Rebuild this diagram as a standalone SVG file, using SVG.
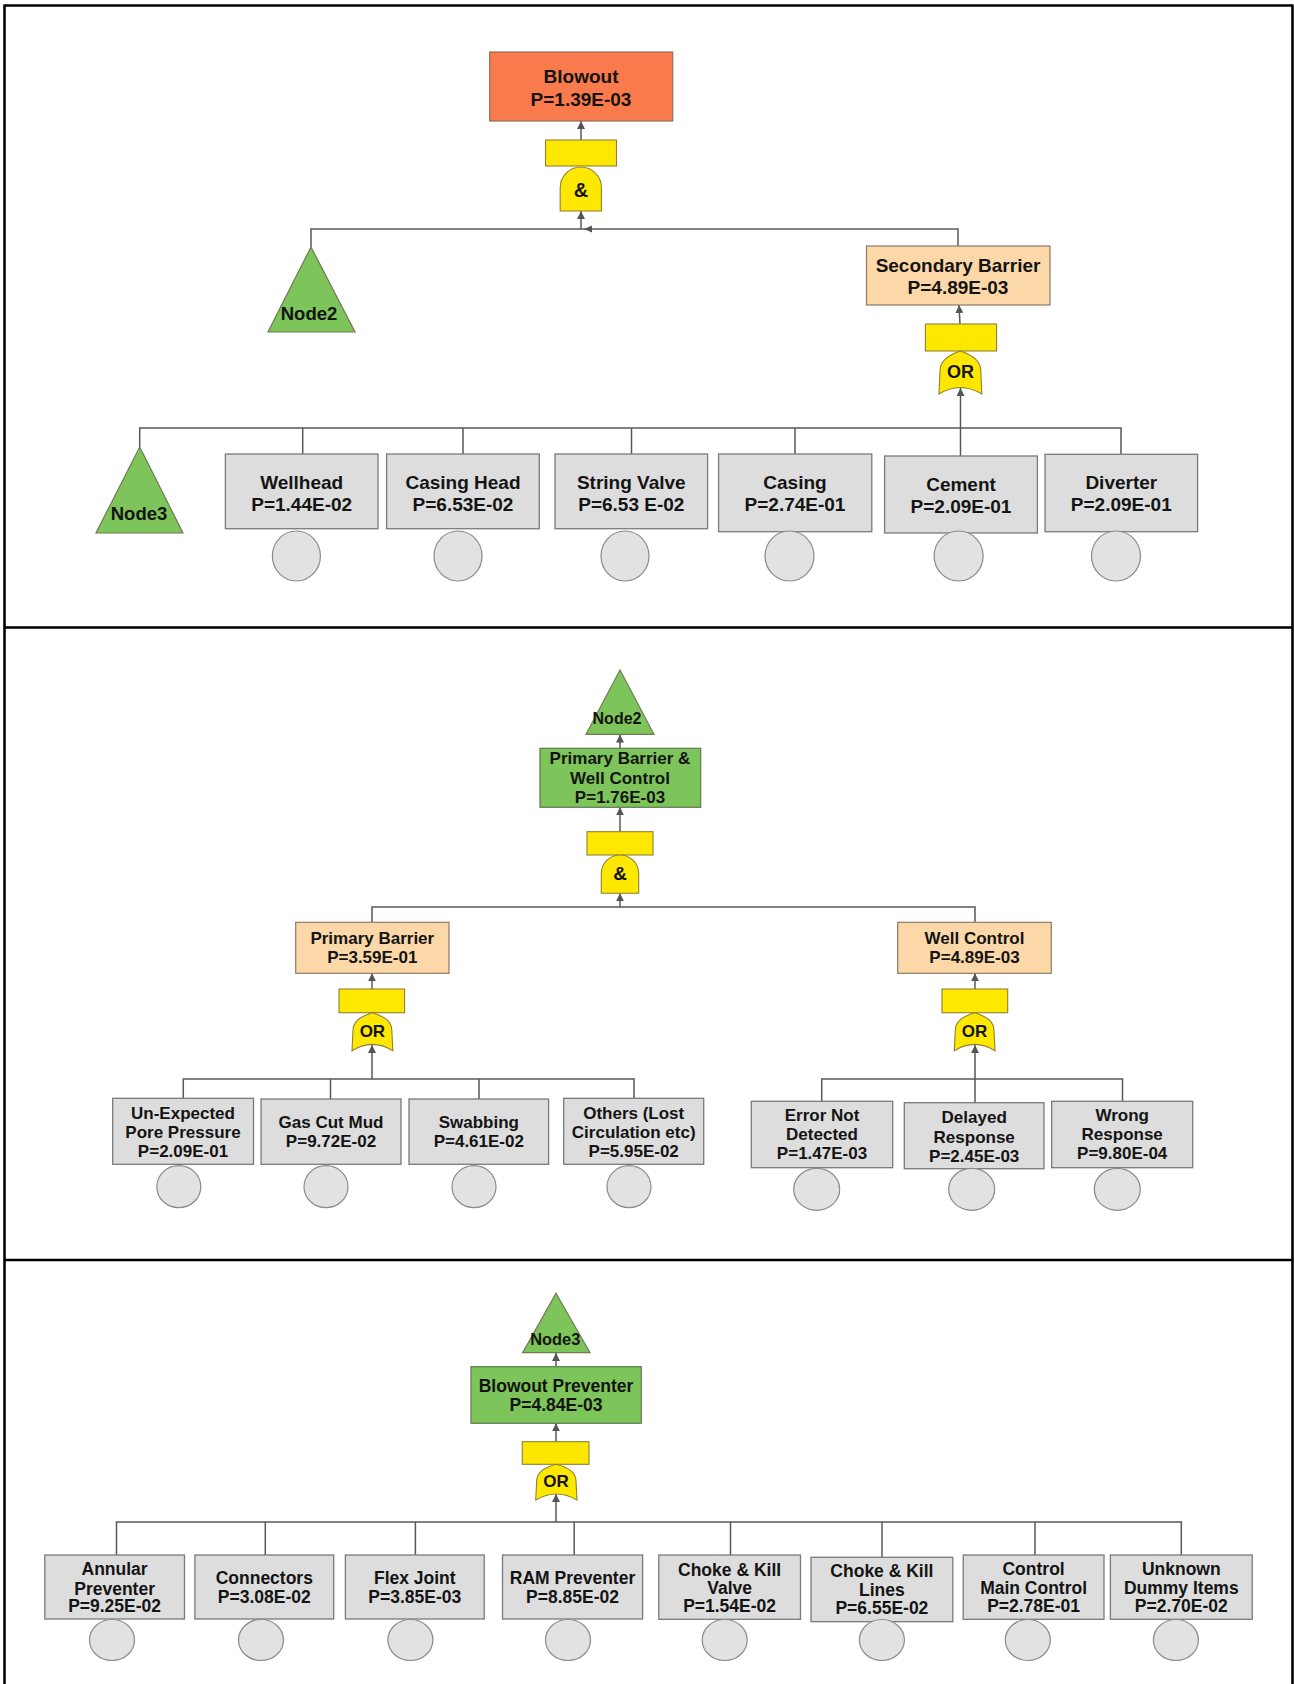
<svg xmlns="http://www.w3.org/2000/svg" width="1294" height="1684" viewBox="0 0 1294 1684">
<defs>
<style>
text{font-family:"Liberation Sans",Arial,sans-serif;font-weight:bold;fill:#141414;text-anchor:middle}
.p1{font-size:19px}
.p2{font-size:17px}
.p3{font-size:17.5px}
.ev{fill:#DDDDDD;stroke:#7A7A7A;stroke-width:1.3}
.circ{fill:#E2E2E2;stroke:#8A8A8A;stroke-width:1.2}
.top{fill:#F97A4C;stroke:#9A6A55;stroke-width:1.2}
.mid{fill:#FCD8A9;stroke:#8E7A66;stroke-width:1.2}
.grn{fill:#7DC45A;stroke:#5E7A50;stroke-width:1.2}
.tri{fill:#7DC45A;stroke:#6F7A55;stroke-width:1.2}
.gate{fill:#FFE800;stroke:#8F8035;stroke-width:1.1}
.ln{fill:none;stroke:#585858;stroke-width:1.5}
.ar{fill:none;stroke:#585858;stroke-width:1.5;marker-end:url(#ah)}
.frame{fill:none;stroke:#000;stroke-width:2.6}
</style>
<marker id="ah" viewBox="0 0 8 8" refX="8" refY="4" markerWidth="8" markerHeight="8" markerUnits="userSpaceOnUse" orient="auto">
<path d="M0,0 L8,4 L0,8 z" fill="#555"/>
</marker>
</defs>
<rect width="1294" height="1684" fill="#fff"/>
<g id="frame">
<line class="frame" x1="4.5" y1="5.5" x2="1292.5" y2="5.5"/>
<line class="frame" x1="4.5" y1="4.5" x2="4.5" y2="1684"/>
<line class="frame" x1="1292.5" y1="4.5" x2="1292.5" y2="1684"/>
<line class="frame" x1="4.5" y1="627.5" x2="1292.5" y2="627.5"/>
<line class="frame" x1="4.5" y1="1260" x2="1292.5" y2="1260"/>
</g>

<g id="connectors">
<!-- panel 1 -->
<line class="ar" x1="581" y1="140" x2="581" y2="121"/>
<line class="ar" x1="581" y1="229" x2="581" y2="211"/>
<polyline class="ln" points="311,247 311,229 958,229 958,246"/>
<path d="M584,229 L592,225.5 L592,232.5 z" fill="#555"/>
<line class="ar" x1="960" y1="324" x2="959" y2="305"/>
<line class="ar" x1="960.5" y1="456" x2="960.5" y2="388"/>
<polyline class="ln" points="139.7,447 139.7,428 1121,428 1121,454.3"/>
<line class="ln" x1="302.7" y1="428" x2="302.7" y2="454"/>
<line class="ln" x1="463" y1="428" x2="463" y2="454"/>
<line class="ln" x1="631.5" y1="428" x2="631.5" y2="454"/>
<line class="ln" x1="795" y1="428" x2="795" y2="454"/>
<!-- panel 2 -->
<line class="ar" x1="620" y1="748.3" x2="620" y2="734.5"/>
<line class="ar" x1="620" y1="831.7" x2="620" y2="807.3"/>
<line class="ar" x1="620" y1="907" x2="620" y2="893.3"/>
<polyline class="ln" points="372,922.3 372,907 975,907 975,922.3"/>
<line class="ar" x1="372" y1="989" x2="372" y2="973.3"/>
<line class="ar" x1="975" y1="989" x2="975" y2="973.3"/>
<line class="ar" x1="372" y1="1079" x2="372" y2="1045"/>
<line class="ar" x1="975" y1="1079" x2="975" y2="1045"/>
<polyline class="ln" points="183.3,1098.3 183.3,1079 634,1079 634,1098.3"/>
<line class="ln" x1="330.5" y1="1079" x2="330.5" y2="1099"/>
<line class="ln" x1="479" y1="1079" x2="479" y2="1099"/>
<polyline class="ln" points="821.7,1101.3 821.7,1079 1122.5,1079 1122.5,1101.3"/>
<line class="ln" x1="975" y1="1079" x2="975" y2="1102.7"/>
<!-- panel 3 -->
<line class="ar" x1="556" y1="1366.7" x2="556" y2="1352.9"/>
<line class="ar" x1="556" y1="1441.7" x2="556" y2="1423.3"/>
<line class="ar" x1="556" y1="1522" x2="556" y2="1494"/>
<polyline class="ln" points="116.5,1555 116.5,1522 1181.3,1522 1181.3,1555"/>
<line class="ln" x1="265.3" y1="1522" x2="265.3" y2="1555"/>
<line class="ln" x1="415.4" y1="1522" x2="415.4" y2="1555"/>
<line class="ln" x1="574.2" y1="1522" x2="574.2" y2="1555"/>
<line class="ln" x1="730.5" y1="1522" x2="730.5" y2="1555"/>
<line class="ln" x1="882" y1="1522" x2="882" y2="1557.3"/>
<line class="ln" x1="1035" y1="1522" x2="1035" y2="1555"/>
</g>

<!-- ============ PANEL 1 ============ -->
<g id="blowout">
<rect class="top" x="489.7" y="52" width="183" height="69"/>
<text class="p1" x="581" y="82.8">Blowout</text>
<text class="p1" x="581" y="105.8">P=1.39E-03</text>
</g>
<g id="gate-and-1">
<rect class="gate" x="545.5" y="140" width="71" height="26"/>
<path class="gate" d="M560.2,211 L560.2,187.6 A20.6,20.6 0 0 1 601.4,187.6 L601.4,211 Z"/>
<text style="font-size:20px" x="581" y="197">&amp;</text>
</g>
<g id="node2-ref-1">
<path class="tri" d="M311,247 L355,332 L268,332 Z"/>
<text style="font-size:18.5px" x="309" y="319.7">Node2</text>
</g>
<g id="secondary-barrier">
<rect class="mid" x="866.5" y="246" width="183.5" height="59"/>
<text class="p1" x="958" y="271.8">Secondary Barrier</text>
<text class="p1" x="958" y="293.8">P=4.89E-03</text>
</g>
<g id="gate-or-1">
<rect class="gate" x="925.4" y="324" width="71.2" height="27"/>
<path class="gate" d="M939,394 L940,371 C940,362 948,355 960.4,351 C972.8,355 980.8,362 980.8,371 L981.8,394 Q960.4,381 939,394 Z"/>
<text style="font-size:18px" x="960.5" y="378.2">OR</text>
</g>
<g id="node3-ref-1">
<path class="tri" d="M139.7,447 L183,533 L96,533 Z"/>
<text style="font-size:18.5px" x="139" y="520">Node3</text>
</g>
<g id="wellhead">
<rect class="ev" x="225.4" y="454" width="152.6" height="74.7"/>
<text class="p1" x="301.7" y="488.5">Wellhead</text>
<text class="p1" x="301.7" y="510.5">P=1.44E-02</text>
<ellipse class="circ" cx="296.4" cy="556" rx="24" ry="25"/>
</g>
<g id="casing-head">
<rect class="ev" x="386.6" y="454" width="152.7" height="74.7"/>
<text class="p1" x="463" y="488.5">Casing Head</text>
<text class="p1" x="463" y="510.5">P=6.53E-02</text>
<ellipse class="circ" cx="458" cy="556" rx="24" ry="25"/>
</g>
<g id="string-valve">
<rect class="ev" x="555" y="454" width="152.6" height="74.7"/>
<text class="p1" x="631.3" y="488.5">String Valve</text>
<text class="p1" x="631.3" y="510.5">P=6.53 E-02</text>
<ellipse class="circ" cx="625" cy="556" rx="24" ry="25"/>
</g>
<g id="casing">
<rect class="ev" x="718.6" y="454" width="153.2" height="77.7"/>
<text class="p1" x="795" y="488.5">Casing</text>
<text class="p1" x="795" y="510.5">P=2.74E-01</text>
<ellipse class="circ" cx="789.5" cy="556" rx="24.5" ry="25"/>
</g>
<g id="cement">
<rect class="ev" x="884.6" y="456" width="152.8" height="77"/>
<text class="p1" x="961" y="490.8">Cement</text>
<text class="p1" x="961" y="512.8">P=2.09E-01</text>
<ellipse class="circ" cx="958.6" cy="556" rx="24.5" ry="25"/>
</g>
<g id="diverter">
<rect class="ev" x="1045" y="454.3" width="152.6" height="77.4"/>
<text class="p1" x="1121.3" y="488.5">Diverter</text>
<text class="p1" x="1121.3" y="510.8">P=2.09E-01</text>
<ellipse class="circ" cx="1116" cy="556" rx="24.5" ry="25"/>
</g>

<!-- ============ PANEL 2 ============ -->
<g id="node2-top">
<path class="tri" d="M620,670 L654,734.3 L586,734.3 Z"/>
<text style="font-size:16px" x="617" y="723.5">Node2</text>
</g>
<g id="primary-barrier-well-control">
<rect class="grn" x="540" y="748.3" width="160.7" height="59"/>
<text class="p2" x="620" y="764.4">Primary Barrier &amp;</text>
<text class="p2" x="620" y="783.8">Well Control</text>
<text class="p2" x="620" y="802.8">P=1.76E-03</text>
</g>
<g id="gate-and-2">
<rect class="gate" x="587" y="831.7" width="66" height="23.3"/>
<path class="gate" d="M601.3,893.3 L601.3,873.7 A18.7,18.7 0 0 1 638.7,873.7 L638.7,893.3 Z"/>
<text style="font-size:19px" x="620" y="879.5">&amp;</text>
</g>
<g id="primary-barrier">
<rect class="mid" x="295.7" y="922.3" width="153.3" height="51"/>
<text class="p2" x="372.3" y="944.4">Primary Barrier</text>
<text class="p2" x="372.3" y="962.8">P=3.59E-01</text>
</g>
<g id="gate-or-2a">
<rect class="gate" x="339" y="989" width="65.6" height="23.7"/>
<path class="gate" d="M352,1050.7 L353,1030 C353,1022 361,1016 372.4,1012.7 C383.8,1016 391.8,1022 391.8,1030 L392.8,1050.7 Q372.4,1038 352,1050.7 Z"/>
<text style="font-size:17px" x="372.4" y="1036.8">OR</text>
</g>
<g id="well-control">
<rect class="mid" x="897.7" y="922.3" width="153.6" height="51"/>
<text class="p2" x="974.5" y="944.4">Well Control</text>
<text class="p2" x="974.5" y="963.1">P=4.89E-03</text>
</g>
<g id="gate-or-2b">
<rect class="gate" x="942" y="989" width="65.7" height="23.7"/>
<path class="gate" d="M954.3,1050.7 L955.3,1030 C955.3,1022 963.3,1016 974.6,1012.7 C986,1016 994,1022 994,1030 L995,1050.7 Q974.6,1038 954.3,1050.7 Z"/>
<text style="font-size:17px" x="974.6" y="1036.8">OR</text>
</g>
<g id="unexpected-pore-pressure">
<rect class="ev" x="112.7" y="1098.3" width="140.8" height="66"/>
<text class="p2" x="183" y="1119.4">Un-Expected</text>
<text class="p2" x="183" y="1138.4">Pore Pressure</text>
<text class="p2" x="183" y="1156.8">P=2.09E-01</text>
<ellipse class="circ" cx="178.8" cy="1186.7" rx="22" ry="21"/>
</g>
<g id="gas-cut-mud">
<rect class="ev" x="261" y="1099" width="140" height="65.3"/>
<text class="p2" x="331" y="1128.4">Gas Cut Mud</text>
<text class="p2" x="331" y="1147.1">P=9.72E-02</text>
<ellipse class="circ" cx="326" cy="1186.7" rx="22" ry="21"/>
</g>
<g id="swabbing">
<rect class="ev" x="409" y="1099" width="139.6" height="65.3"/>
<text class="p2" x="478.8" y="1128.1">Swabbing</text>
<text class="p2" x="478.8" y="1147.1">P=4.61E-02</text>
<ellipse class="circ" cx="474" cy="1186.7" rx="22" ry="21"/>
</g>
<g id="others-lost-circulation">
<rect class="ev" x="563.7" y="1098.3" width="140" height="66"/>
<text class="p2" x="633.7" y="1119.1">Others (Lost</text>
<text class="p2" x="633.7" y="1138.1">Circulation etc)</text>
<text class="p2" x="633.7" y="1157.1">P=5.95E-02</text>
<ellipse class="circ" cx="629" cy="1186.7" rx="22" ry="21"/>
</g>
<g id="error-not-detected">
<rect class="ev" x="751.3" y="1101.3" width="141.4" height="66.4"/>
<text class="p2" x="822" y="1121.1">Error Not</text>
<text class="p2" x="822" y="1140.1">Detected</text>
<text class="p2" x="822" y="1159.4">P=1.47E-03</text>
<ellipse class="circ" cx="816.7" cy="1189.3" rx="23" ry="21"/>
</g>
<g id="delayed-response">
<rect class="ev" x="904.3" y="1102.7" width="139.7" height="66"/>
<text class="p2" x="974.2" y="1123.4">Delayed</text>
<text class="p2" x="974.2" y="1142.8">Response</text>
<text class="p2" x="974.2" y="1162.1">P=2.45E-03</text>
<ellipse class="circ" cx="971.7" cy="1189.3" rx="23" ry="21"/>
</g>
<g id="wrong-response">
<rect class="ev" x="1051.7" y="1101.3" width="141" height="66.4"/>
<text class="p2" x="1122.2" y="1121.1">Wrong</text>
<text class="p2" x="1122.2" y="1140.1">Response</text>
<text class="p2" x="1122.2" y="1159.1">P=9.80E-04</text>
<ellipse class="circ" cx="1117.3" cy="1189.3" rx="23" ry="21"/>
</g>

<!-- ============ PANEL 3 ============ -->
<g id="node3-top">
<path class="tri" d="M556,1293.3 L590,1352.7 L522.7,1352.7 Z"/>
<text style="font-size:16.4px" x="555.3" y="1344.9">Node3</text>
</g>
<g id="blowout-preventer">
<rect class="grn" x="471" y="1366.7" width="170.3" height="56.6"/>
<text class="p3" x="556" y="1391.6">Blowout Preventer</text>
<text class="p3" x="556" y="1410.6">P=4.84E-03</text>
</g>
<g id="gate-or-3">
<rect class="gate" x="522.3" y="1441.7" width="66.7" height="22.6"/>
<path class="gate" d="M535.7,1500 L536.7,1481 C536.7,1473 544,1467.5 556.3,1464.3 C568.6,1467.5 576,1473 576,1481 L577,1500 Q556.3,1488 535.7,1500 Z"/>
<text style="font-size:17px" x="556" y="1486.8">OR</text>
</g>
<g id="annular-preventer">
<rect class="ev" x="44.8" y="1555" width="139.7" height="64"/>
<text class="p3" x="114.6" y="1575.3">Annular</text>
<text class="p3" x="114.6" y="1594.6">Preventer</text>
<text class="p3" x="114.6" y="1612.3">P=9.25E-02</text>
<ellipse class="circ" cx="112" cy="1640" rx="22.5" ry="20.5"/>
</g>
<g id="connectors-event">
<rect class="ev" x="194.9" y="1555" width="138.8" height="64"/>
<text class="p3" x="264.3" y="1583.6">Connectors</text>
<text class="p3" x="264.3" y="1603">P=3.08E-02</text>
<ellipse class="circ" cx="261" cy="1640" rx="22.5" ry="20.5"/>
</g>
<g id="flex-joint">
<rect class="ev" x="345.4" y="1555" width="138.8" height="64"/>
<text class="p3" x="414.8" y="1583.6">Flex Joint</text>
<text class="p3" x="414.8" y="1603">P=3.85E-03</text>
<ellipse class="circ" cx="410.4" cy="1640" rx="22.5" ry="20.5"/>
</g>
<g id="ram-preventer">
<rect class="ev" x="502.5" y="1555" width="140.1" height="64"/>
<text class="p3" x="572.5" y="1583.6">RAM Preventer</text>
<text class="p3" x="572.5" y="1603">P=8.85E-02</text>
<ellipse class="circ" cx="568" cy="1640" rx="22.5" ry="20.5"/>
</g>
<g id="choke-kill-valve">
<rect class="ev" x="658.8" y="1555" width="141.7" height="64.3"/>
<text class="p3" x="729.6" y="1575.6">Choke &amp; Kill</text>
<text class="p3" x="729.6" y="1594">Valve</text>
<text class="p3" x="729.6" y="1612.3">P=1.54E-02</text>
<ellipse class="circ" cx="724.7" cy="1640" rx="22.5" ry="20.5"/>
</g>
<g id="choke-kill-lines">
<rect class="ev" x="811" y="1557.3" width="141.8" height="64.4"/>
<text class="p3" x="881.9" y="1577.3">Choke &amp; Kill</text>
<text class="p3" x="881.9" y="1595.6">Lines</text>
<text class="p3" x="881.9" y="1613.6">P=6.55E-02</text>
<ellipse class="circ" cx="881.9" cy="1640" rx="22.5" ry="20.5"/>
</g>
<g id="control-main-control">
<rect class="ev" x="963.2" y="1555" width="140.8" height="64.3"/>
<text class="p3" x="1033.6" y="1575.3">Control</text>
<text class="p3" x="1033.6" y="1594.3">Main Control</text>
<text class="p3" x="1033.6" y="1612.3">P=2.78E-01</text>
<ellipse class="circ" cx="1027.8" cy="1640" rx="22.5" ry="20.5"/>
</g>
<g id="unknown-dummy-items">
<rect class="ev" x="1110.4" y="1555" width="141.8" height="64.3"/>
<text class="p3" x="1181.3" y="1575.3">Unknown</text>
<text class="p3" x="1181.3" y="1594.3">Dummy Items</text>
<text class="p3" x="1181.3" y="1612.3">P=2.70E-02</text>
<ellipse class="circ" cx="1175.9" cy="1640" rx="22.5" ry="20.5"/>
</g>
</svg>
